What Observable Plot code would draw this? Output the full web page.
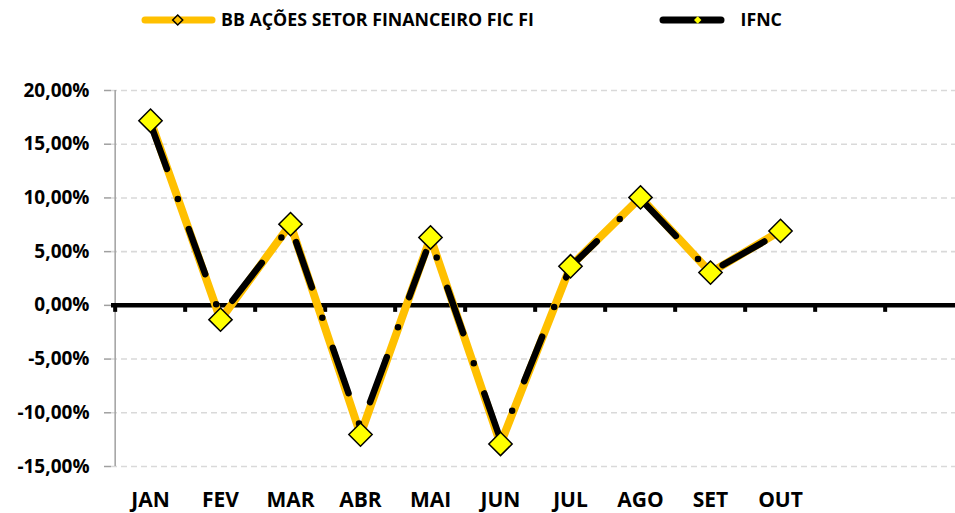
<!DOCTYPE html>
<html>
<head>
<meta charset="utf-8">
<script src="https://cdn.jsdelivr.net/npm/d3@7"></script>
<script src="https://cdn.jsdelivr.net/npm/@observablehq/plot@0.6"></script>
<style>
  html, body { margin: 0; padding: 0; background: white; overflow: hidden; }
  #legend { display: block; }
  #chart svg { display: block; }
</style>
</head>
<body>
<svg id="legend" width="955" height="40" font-family="'Open Sans', sans-serif" font-weight="700">
  <line x1="145" y1="20" x2="212" y2="20" stroke="#FFC000" stroke-width="7" stroke-linecap="round"/>
  <path d="M177.7,15 L182.7,20 L177.7,25 L172.7,20 Z" fill="#FFC000" stroke="black" stroke-width="1.5"/>
  <text x="221" y="26" font-size="17.8" fill="black">BB AÇÕES SETOR FINANCEIRO FIC FI</text>
  <line x1="663" y1="20" x2="721" y2="20" stroke="black" stroke-width="7" stroke-linecap="round"/>
  <path d="M697.7,16.3 L701.4,20 L697.7,23.7 L694,20 Z" fill="#FFFF00"/>
  <text x="740.5" y="26" font-size="17.8" fill="black">IFNC</text>
</svg>
<div id="chart"></div>
<script>
// ---- data ----
const months = ["JAN","FEV","MAR","ABR","MAI","JUN","JUL","AGO","SET","OUT","NOV","DEZ"];
const monthLabels = ["JAN","FEV","MAR","ABR","MAI","JUN","JUL","AGO","SET","OUT","",""];
const bbValues   = [17.19, -1.33, 7.56, -12.03, 6.32, -12.90, 3.64, 10.05, 3.05, 6.93];
const ifncValues = [16.90, -1.00, 7.40, -11.40, 6.10, -12.50, 3.60, 9.90, 3.10, 6.80];
const yTicks = [-15, -10, -5, 0, 5, 10, 15, 20];

const bb = bbValues.map((v, i) => ({month: months[i], value: v}));
const ifnc = ifncValues.map((v, i) => ({month: months[i], value: v}));

const W = 955, H = 473, ML = 111, MR = -4, MT = 50, MB = 47;
const step = (W - MR - ML) / months.length;
const yDomain = [yTicks[0], yTicks[yTicks.length - 1]];
const fmt = d => d.toFixed(2).replace(".", ",") + "%";

const chart = Plot.plot({
  width: W, height: H,
  marginLeft: ML, marginRight: MR, marginTop: MT, marginBottom: MB,
  style: {fontFamily: "'Open Sans', sans-serif", background: "white", overflow: "hidden"},
  x: {type: "point", domain: months, padding: 0.5, axis: null},
  y: {domain: yDomain, axis: null, label: null},
  marks: [
    // dashed grid
    Plot.ruleY(yTicks.filter(t => t !== 0), {stroke: "#D9D9D9", strokeWidth: 1.6, strokeDasharray: "6,4"}),
    // vertical axis line
    Plot.ruleX([months[0]], {x: d => d, dx: -step / 2, y1: () => yDomain[0], y2: () => yDomain[1], stroke: "#A0A0A0", strokeWidth: 1.5}),
    // y axis ticks + labels
    Plot.axisY(yTicks, {anchor: "left", tickSize: 7, tickPadding: 15, stroke: "#A0A0A0", strokeWidth: 1.5,
      tickFormat: fmt, fontSize: 19, fontWeight: "bold", fill: "black", label: null}),
    // zero line
    Plot.ruleY([0], {stroke: "black", strokeWidth: 4.5}),
    // category boundary ticks on the zero line
    Plot.ruleX(months, {x: d => d, dx: -step / 2, y1: () => 0, y2: () => 0, insetBottom: -7, stroke: "black", strokeWidth: 4}),
    // x labels
    Plot.axisX(months, {anchor: "bottom", tickSize: 0, tickPadding: 25.5,
      tickFormat: d => monthLabels[months.indexOf(d)], fontSize: 21, fontWeight: "bold", fill: "black", label: null}),
    // series
    Plot.line(bb, {x: "month", y: "value", stroke: "#FFC000", strokeWidth: 8, strokeLinejoin: "round", strokeLinecap: "round"}),
    Plot.line(ifnc, {x: "month", y: "value", stroke: "black", strokeWidth: 6.5, strokeDasharray: "48,32,0,32", strokeLinecap: "round", strokeLinejoin: "round"}),
    Plot.dot(ifnc, {x: "month", y: "value", symbol: "diamond2", r: 4, fill: "#FFFF00"}),
    Plot.dot(bb, {x: "month", y: "value", symbol: "diamond2", r: 10.5, fill: "#FFFF00", stroke: "black", strokeWidth: 1.5})
  ]
});
document.getElementById("chart").appendChild(chart);
</script>
</body>
</html>
